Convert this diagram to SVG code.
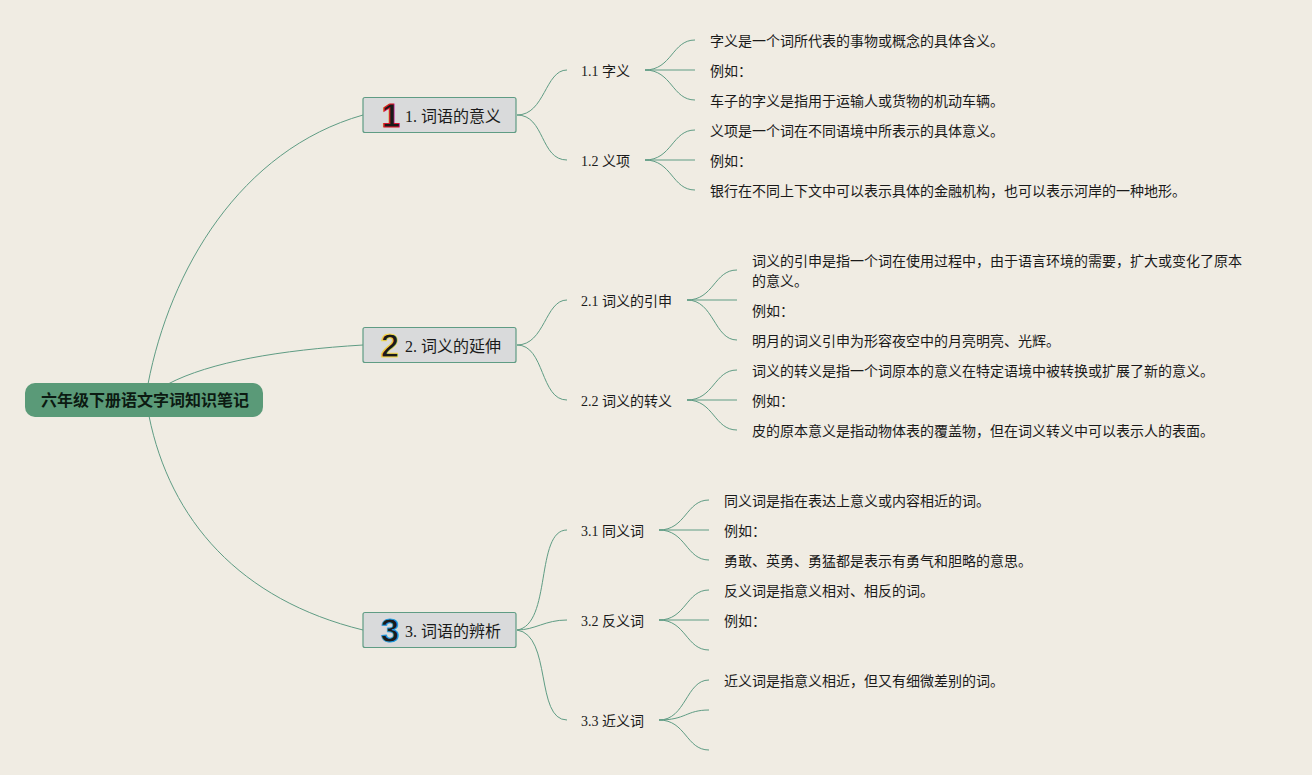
<svg xmlns="http://www.w3.org/2000/svg" width="1312" height="775" viewBox="0 0 1312 775">
<style>
text{font-family:"Liberation Serif","Noto Sans CJK SC",serif;fill:#1a1a1a;dominant-baseline:central}
.sub,.leaf{font-size:14px}
.topic{font-size:16px}
.root{font-size:16px;font-weight:bold;fill:#0c1a12}
.box{fill:#d9dadb;stroke:#5f9c84;stroke-width:1.2}
.num{font-family:"Liberation Sans",sans-serif;font-weight:bold;font-size:33px;stroke-width:1;text-anchor:middle}
#connectors path{fill:none;stroke:#5f9c84;stroke-width:1}
</style>
<rect width="1312" height="775" fill="#f0ece3"/>
<g id="connectors">
<path d="M148 384C170 270 240 150 363 115"/>
<path d="M168 384C210 362 280 350 363 345"/>
<path d="M149 416C170 520 240 600 363 630"/>
<path d="M517 115C545 115 545 70 567 70"/>
<path d="M517 115C545 115 540 160 567 160"/>
<path d="M517 345C545 345 545 300 567 300"/>
<path d="M517 345C545 345 540 400 567 400"/>
<path d="M517 630C552 625 535 530 567 530"/>
<path d="M517 630C535 630 545 620 567 620"/>
<path d="M517 630C552 635 535 720 567 720"/>
<path d="M645 70C672 70 672 40 695 40"/>
<path d="M645 70H695"/>
<path d="M645 70C672 70 672 100 695 100"/>
<path d="M645 160C672 160 672 130 695 130"/>
<path d="M645 160H695"/>
<path d="M645 160C672 160 672 190 695 190"/>
<path d="M687 300C714 300 714 270 737 270"/>
<path d="M687 300H737"/>
<path d="M687 300C714 300 714 340 737 340"/>
<path d="M687 400C714 400 714 370 737 370"/>
<path d="M687 400H737"/>
<path d="M687 400C714 400 714 430 737 430"/>
<path d="M659 530C686 530 686 500 709 500"/>
<path d="M659 530H709"/>
<path d="M659 530C686 530 686 560 709 560"/>
<path d="M659 620C686 620 686 590 709 590"/>
<path d="M659 620H709"/>
<path d="M659 620C686 620 686 650 709 650"/>
<path d="M659 720C686 720 686 680 709 680"/>
<path d="M659 720C686 720 686 710 709 710"/>
<path d="M659 720C686 720 686 750 709 750"/>
</g>
<g id="root"><rect x="25" y="383" width="238" height="34" rx="10" fill="#5a9a78"/><text class="root" x="41" y="400">六年级下册语文字词知识笔记</text></g>
<g id="t1"><rect class="box" x="363" y="97.500" width="153" height="35" rx="2"/><text class="num" x="391" y="115" fill="#d8142c" stroke="#d8142c">1</text><text class="topic" x="405" y="116">1. 词语的意义</text></g>
<g id="t2"><rect class="box" x="363" y="327.500" width="153" height="35" rx="2"/><text class="num" x="390" y="345" fill="#f5d94e" stroke="#f5d94e">2</text><text class="topic" x="405" y="346">2. 词义的延伸</text></g>
<g id="t3"><rect class="box" x="363" y="612.500" width="153" height="35" rx="2"/><text class="num" x="390" y="630" fill="#1f9ade" stroke="#1f9ade">3</text><text class="topic" x="405" y="631">3. 词语的辨析</text></g>
<g id="s11"><text class="sub" x="581" y="71">1.1 字义</text></g>
<g id="s12"><text class="sub" x="581" y="161">1.2 义项</text></g>
<g id="s21"><text class="sub" x="581" y="301">2.1 词义的引申</text></g>
<g id="s22"><text class="sub" x="581" y="401">2.2 词义的转义</text></g>
<g id="s31"><text class="sub" x="581" y="531">3.1 同义词</text></g>
<g id="s32"><text class="sub" x="581" y="621">3.2 反义词</text></g>
<g id="s33"><text class="sub" x="581" y="721">3.3 近义词</text></g>
<g id="l111"><text class="leaf" x="710" y="41">字义是一个词所代表的事物或概念的具体含义。</text></g>
<g id="l112"><text class="leaf" x="710" y="71">例如：</text></g>
<g id="l113"><text class="leaf" x="710" y="101">车子的字义是指用于运输人或货物的机动车辆。</text></g>
<g id="l121"><text class="leaf" x="710" y="131">义项是一个词在不同语境中所表示的具体意义。</text></g>
<g id="l122"><text class="leaf" x="710" y="161">例如：</text></g>
<g id="l123"><text class="leaf" x="710" y="191">银行在不同上下文中可以表示具体的金融机构，也可以表示河岸的一种地形。</text></g>
<g id="l211"><text class="leaf" x="752" y="261">词义的引申是指一个词在使用过程中，由于语言环境的需要，扩大或变化了原本</text><text class="leaf" x="752" y="281">的意义。</text></g>
<g id="l212"><text class="leaf" x="752" y="311">例如：</text></g>
<g id="l213"><text class="leaf" x="752" y="341">明月的词义引申为形容夜空中的月亮明亮、光辉。</text></g>
<g id="l221"><text class="leaf" x="752" y="371">词义的转义是指一个词原本的意义在特定语境中被转换或扩展了新的意义。</text></g>
<g id="l222"><text class="leaf" x="752" y="401">例如：</text></g>
<g id="l223"><text class="leaf" x="752" y="431">皮的原本意义是指动物体表的覆盖物，但在词义转义中可以表示人的表面。</text></g>
<g id="l311"><text class="leaf" x="724" y="501">同义词是指在表达上意义或内容相近的词。</text></g>
<g id="l312"><text class="leaf" x="724" y="531">例如：</text></g>
<g id="l313"><text class="leaf" x="724" y="561">勇敢、英勇、勇猛都是表示有勇气和胆略的意思。</text></g>
<g id="l321"><text class="leaf" x="724" y="591">反义词是指意义相对、相反的词。</text></g>
<g id="l322"><text class="leaf" x="724" y="621">例如：</text></g>
<g id="l331"><text class="leaf" x="724" y="681">近义词是指意义相近，但又有细微差别的词。</text></g>
</svg>
